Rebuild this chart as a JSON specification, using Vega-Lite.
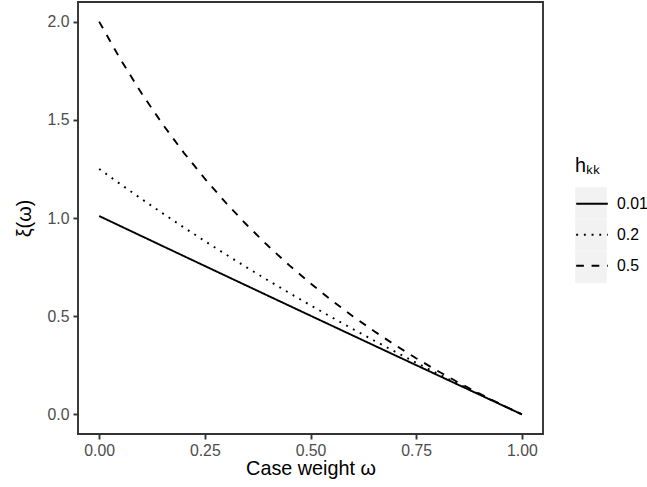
{
  "$schema": "https://vega.github.io/schema/vega-lite/v6.json",
  "width": 465,
  "height": 432,
  "autosize": {"type": "none"},
  "padding": {"left": 78, "top": 2, "right": 104, "bottom": 53},
  "background": "white",
  "config": {
    "font": "Liberation Sans",
    "view": {"stroke": "#333333", "strokeWidth": 1.9},
    "axis": {
      "grid": false,
      "domain": false,
      "tickColor": "#333333",
      "tickWidth": 1.9,
      "tickSize": 5,
      "labelColor": "#4D4D4D",
      "labelFont": "Liberation Sans",
      "labelFontSize": 15.8,
      "labelPadding": 4,
      "labelFlush": false,
      "titleFont": "Liberation Sans",
      "titleFontSize": 19.8,
      "titleFontWeight": "normal",
      "titleColor": "black"
    },
    "legend": {
      "padding": 0,
      "titleFont": "Liberation Sans",
      "titleFontSize": 19.8,
      "titleFontWeight": "normal",
      "titleColor": "black",
      "titlePadding": 11,
      "labelFont": "Liberation Sans",
      "labelFontSize": 15.8,
      "labelColor": "black",
      "labelOffset": 8,
      "symbolSize": 1000
    }
  },
  "data": {
    "values": [
      {"w": 0.00, "xi": 1.010101, "h": "0.01"},
      {"w": 0.05, "xi": 0.959112, "h": "0.01"},
      {"w": 0.10, "xi": 0.908174, "h": "0.01"},
      {"w": 0.15, "xi": 0.857287, "h": "0.01"},
      {"w": 0.20, "xi": 0.806452, "h": "0.01"},
      {"w": 0.25, "xi": 0.755668, "h": "0.01"},
      {"w": 0.30, "xi": 0.704935, "h": "0.01"},
      {"w": 0.35, "xi": 0.654253, "h": "0.01"},
      {"w": 0.40, "xi": 0.603622, "h": "0.01"},
      {"w": 0.45, "xi": 0.553042, "h": "0.01"},
      {"w": 0.50, "xi": 0.502513, "h": "0.01"},
      {"w": 0.55, "xi": 0.452034, "h": "0.01"},
      {"w": 0.60, "xi": 0.401606, "h": "0.01"},
      {"w": 0.65, "xi": 0.351229, "h": "0.01"},
      {"w": 0.70, "xi": 0.300903, "h": "0.01"},
      {"w": 0.75, "xi": 0.250627, "h": "0.01"},
      {"w": 0.80, "xi": 0.200401, "h": "0.01"},
      {"w": 0.85, "xi": 0.150225, "h": "0.01"},
      {"w": 0.90, "xi": 0.100100, "h": "0.01"},
      {"w": 0.95, "xi": 0.050025, "h": "0.01"},
      {"w": 1.00, "xi": 0.0, "h": "0.01"},
      {"w": 0.00, "xi": 1.250000, "h": "0.2"},
      {"w": 0.05, "xi": 1.172840, "h": "0.2"},
      {"w": 0.10, "xi": 1.097561, "h": "0.2"},
      {"w": 0.15, "xi": 1.024096, "h": "0.2"},
      {"w": 0.20, "xi": 0.952381, "h": "0.2"},
      {"w": 0.25, "xi": 0.882353, "h": "0.2"},
      {"w": 0.30, "xi": 0.813953, "h": "0.2"},
      {"w": 0.35, "xi": 0.747126, "h": "0.2"},
      {"w": 0.40, "xi": 0.681818, "h": "0.2"},
      {"w": 0.45, "xi": 0.617978, "h": "0.2"},
      {"w": 0.50, "xi": 0.555556, "h": "0.2"},
      {"w": 0.55, "xi": 0.494505, "h": "0.2"},
      {"w": 0.60, "xi": 0.434783, "h": "0.2"},
      {"w": 0.65, "xi": 0.376344, "h": "0.2"},
      {"w": 0.70, "xi": 0.319149, "h": "0.2"},
      {"w": 0.75, "xi": 0.263158, "h": "0.2"},
      {"w": 0.80, "xi": 0.208333, "h": "0.2"},
      {"w": 0.85, "xi": 0.154639, "h": "0.2"},
      {"w": 0.90, "xi": 0.102041, "h": "0.2"},
      {"w": 0.95, "xi": 0.050505, "h": "0.2"},
      {"w": 1.00, "xi": 0.0, "h": "0.2"},
      {"w": 0.00, "xi": 2.000000, "h": "0.5"},
      {"w": 0.05, "xi": 1.809524, "h": "0.5"},
      {"w": 0.10, "xi": 1.636364, "h": "0.5"},
      {"w": 0.15, "xi": 1.478261, "h": "0.5"},
      {"w": 0.20, "xi": 1.333333, "h": "0.5"},
      {"w": 0.25, "xi": 1.200000, "h": "0.5"},
      {"w": 0.30, "xi": 1.076923, "h": "0.5"},
      {"w": 0.35, "xi": 0.962963, "h": "0.5"},
      {"w": 0.40, "xi": 0.857143, "h": "0.5"},
      {"w": 0.45, "xi": 0.758621, "h": "0.5"},
      {"w": 0.50, "xi": 0.666667, "h": "0.5"},
      {"w": 0.55, "xi": 0.580645, "h": "0.5"},
      {"w": 0.60, "xi": 0.500000, "h": "0.5"},
      {"w": 0.65, "xi": 0.424242, "h": "0.5"},
      {"w": 0.70, "xi": 0.352941, "h": "0.5"},
      {"w": 0.75, "xi": 0.285714, "h": "0.5"},
      {"w": 0.80, "xi": 0.222222, "h": "0.5"},
      {"w": 0.85, "xi": 0.162162, "h": "0.5"},
      {"w": 0.90, "xi": 0.105263, "h": "0.5"},
      {"w": 0.95, "xi": 0.051282, "h": "0.5"},
      {"w": 1.00, "xi": 0.0, "h": "0.5"}
    ]
  },
  "encoding": {
    "x": {
      "field": "w",
      "type": "quantitative",
      "scale": {"domain": [-0.05, 1.05], "nice": false, "zero": false},
      "axis": {
        "values": [0, 0.25, 0.5, 0.75, 1],
        "format": ".2f",
        "title": "Case weight ω",
        "titleY": 40.5,
        "titleBaseline": "alphabetic"
      }
    },
    "y": {
      "field": "xi",
      "type": "quantitative",
      "scale": {"domain": [-0.1, 2.1], "nice": false, "zero": false},
      "axis": {
        "values": [0, 0.5, 1, 1.5, 2],
        "format": ".1f",
        "title": "ξ(ω)",
        "titleAngle": 270,
        "titleX": -54,
        "titleY": 216,
        "titleAlign": "center",
        "titleBaseline": "middle"
      }
    }
  },
  "layer": [
    {
      "mark": {"type": "point", "shape": "square", "filled": true, "opacity": 0},
      "encoding": {
        "fill": {
          "field": "h",
          "type": "nominal",
          "scale": {"domain": ["0.01", "0.2", "0.5"], "range": ["#F2F2F2", "#F2F2F2", "#F2F2F2"]},
          "legend": {
            "title": null,
            "orient": "none",
            "legendX": 497,
            "legendY": 185,
            "rowPadding": 0,
            "symbolType": "square",
            "symbolOpacity": 1,
            "symbolStrokeWidth": 0,
            "labelExpr": "''",
            "zindex": 0
          }
        }
      }
    },
    {
      "mark": {"type": "line", "color": "black", "strokeWidth": 1.9, "strokeCap": "butt"},
      "encoding": {
        "strokeDash": {
          "field": "h",
          "type": "nominal",
          "scale": {"range": [[1, 0], [1.9, 5.8], [7.7, 7.7]]},
          "legend": {
            "title": "hₖₖ",
            "orient": "none",
            "legendX": 497,
            "legendY": 154,
            "rowPadding": 6,
            "symbolType": "stroke",
            "symbolStrokeColor": "black",
            "symbolStrokeWidth": 1.9,
            "zindex": 1
          }
        }
      }
    }
  ]
}
